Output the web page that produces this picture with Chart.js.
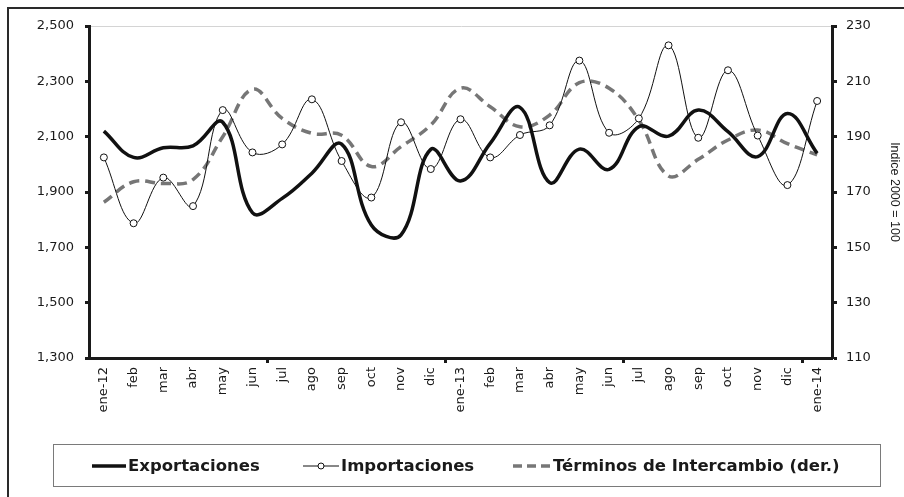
<!DOCTYPE html>
<html>
<head>
<meta charset="utf-8">
<script src="https://cdn.jsdelivr.net/npm/chart.js@4/dist/chart.umd.min.js"></script>
<style>
  html, body { margin: 0; padding: 0; background: #fff; }
  #wrap { position: relative; width: 904px; height: 497px; overflow: hidden; }
  #frame { position: absolute; left: 7px; top: 7px; right: -10px; bottom: -10px;
           border-left: 2px solid #2a2a2a; border-top: 2px solid #2a2a2a; pointer-events: none; }
  #legend { position: absolute; left: 53px; top: 444px; width: 826px; height: 41px;
            border: 1px solid #7a7a7a; font-family: "DejaVu Sans", sans-serif; font-weight: bold;
            font-size: 16.5px; color: #1a1a1a; }
  .item { position: absolute; top: 0; height: 41px; display: flex; align-items: center; white-space: nowrap; }
  .item svg { display: block; margin-right: 2px; }
</style>
</head>
<body>
<div id="wrap">
  <canvas id="c" width="904" height="497"></canvas>
  <div id="frame"></div>
  <div id="legend">
    <div class="item" style="left:38px"><svg width="34" height="10"><line x1="0" y1="5" x2="34" y2="5" stroke="#111" stroke-width="3.5"/></svg>Exportaciones</div>
    <div class="item" style="left:249px"><svg width="36" height="10"><line x1="0" y1="5" x2="36" y2="5" stroke="#111" stroke-width="1"/><circle cx="18" cy="5" r="3" fill="#fff" stroke="#111" stroke-width="1"/></svg>Importaciones</div>
    <div class="item" style="left:459px"><svg width="38" height="10"><line x1="0" y1="5" x2="38" y2="5" stroke="#777" stroke-width="3.5" stroke-dasharray="9,5"/></svg>Términos de Intercambio (der.)</div>
  </div>
</div>
<script>
const categories = ['ene-12','feb','mar','abr','may','jun','jul','ago','sep','oct','nov','dic',
                    'ene-13','feb','mar','abr','may','jun','jul','ago','sep','oct','nov','dic','ene-14'];
const exportaciones = [2120, 2025, 2060, 2067, 2152, 1825, 1877, 1968, 2073, 1781, 1745, 2054,
                       1940, 2076, 2206, 1934, 2055, 1982, 2136, 2102, 2196, 2118, 2028, 2184, 2040];
const importaciones = [2025, 1787, 1952, 1849, 2196, 2043, 2072, 2235, 2012, 1880, 2152, 1983,
                       2163, 2025, 2106, 2141, 2375, 2114, 2166, 2430, 2096, 2340, 2104, 1925, 2229];
const terminos = [166.3, 173.7, 173.1, 174.5, 190, 207.1, 196.6, 191.2, 190.5, 179.2, 186.4, 194.2,
                  207.5, 200.8, 193.6, 197.8, 209.5, 207.5, 196, 175.8, 181.8, 188.8, 192.4, 187.5, 183.4];
const leftTicks = { min: 1300, max: 2500, step: 200 };
const rightTicks = { min: 110, max: 230, step: 20 };
const rightTitle = 'Indice 2000 = 100';
const seriesNames = ['Exportaciones', 'Importaciones', 'Términos de Intercambio (der.)'];

const tickFont = { family: 'DejaVu Sans', size: 13 };
const ink = '#1a1a1a';

new Chart(document.getElementById('c'), {
  type: 'line',
  data: {
    labels: categories,
    datasets: [
      { label: seriesNames[0], data: exportaciones, yAxisID: 'y', borderColor: '#111', borderWidth: 3.5,
        pointRadius: 0, tension: 0.4, order: 0 },
      { label: seriesNames[1], data: importaciones, yAxisID: 'y', borderColor: '#111', borderWidth: 1,
        pointRadius: 3.5, pointBackgroundColor: '#fff', pointBorderColor: '#111', pointBorderWidth: 1,
        tension: 0.4, order: 1 },
      { label: seriesNames[2], data: terminos, yAxisID: 'y1', borderColor: '#767676', borderWidth: 3.5,
        borderDash: [10, 6], pointRadius: 0, tension: 0.4, order: 2 }
    ]
  },
  options: {
    responsive: false,
    animation: false,
    events: [],
    layout: { padding: { top: 26, left: 0, right: 0, bottom: 79 } },
    plugins: { legend: { display: false }, tooltip: { enabled: false } },
    scales: {
      x: {
        type: 'category',
        offset: true,
        afterFit: s => { s.height = 60; },
        grid: {
          offset: true,
          drawOnChartArea: false,
          color: 'rgba(0,0,0,0)',
          tickColor: c => (c.index > 0 && c.index % 6 === 0) ? ink : 'rgba(0,0,0,0)',
          tickLength: 5,
          tickWidth: 3
        },
        border: { color: ink, width: 3 },
        ticks: { autoSkip: false, maxRotation: 90, minRotation: 90, padding: 4, color: ink, font: tickFont }
      },
      y: {
        position: 'left',
        min: leftTicks.min, max: leftTicks.max,
        afterFit: s => { s.width = 89; },
        grid: {
          color: c => (c.tick && c.tick.value === leftTicks.max) ? '#d4d4d4' : 'rgba(0,0,0,0)',
          lineWidth: 1,
          tickColor: ink,
          tickLength: 4,
          tickWidth: 3
        },
        border: { color: ink, width: 3 },
        ticks: { stepSize: leftTicks.step, padding: 11, color: ink, font: tickFont,
                 callback: v => v.toLocaleString('en-US') }
      },
      y1: {
        position: 'right',
        min: rightTicks.min, max: rightTicks.max,
        afterFit: s => { s.width = 72; },
        grid: { drawOnChartArea: false, color: 'rgba(0,0,0,0)', tickColor: ink, tickLength: 5, tickWidth: 3 },
        border: { color: ink, width: 3 },
        ticks: { stepSize: rightTicks.step, padding: 9, color: ink, font: tickFont },
        title: { display: true, text: rightTitle, color: ink,
                 font: { family: 'Liberation Sans', size: 12.5 }, padding: 2 }
      }
    }
  }
});
</script>
</body>
</html>
